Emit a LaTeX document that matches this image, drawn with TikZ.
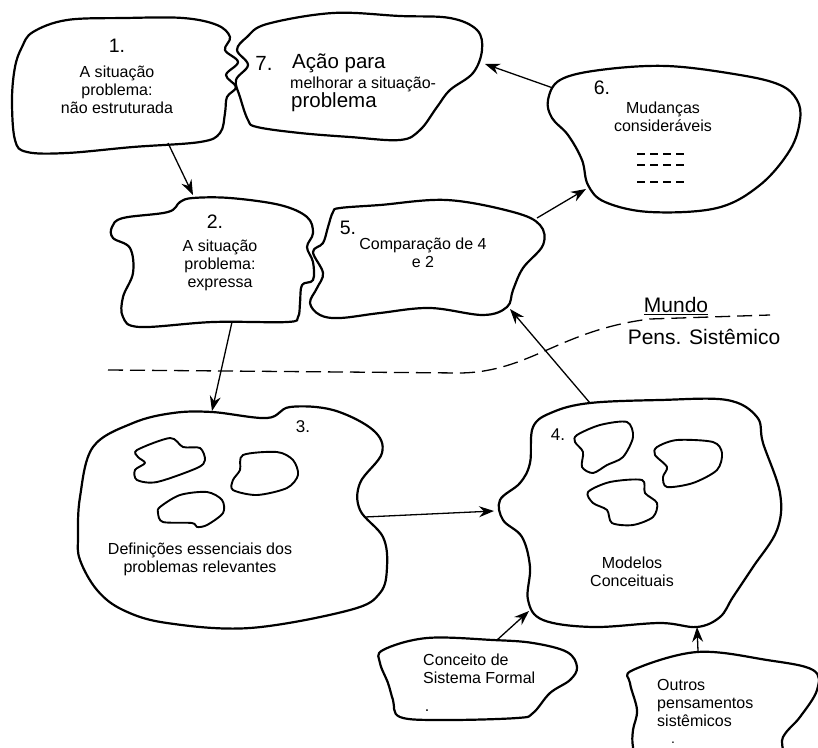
\documentclass[tikz,border=0pt]{standalone}
\usepackage{fontspec}
\setmainfont{Liberation Sans}
\usetikzlibrary{arrows.meta}

\begin{document}
\begin{tikzpicture}[x=1pt, y=-1pt,
    blob/.style={line width=2.2pt, line join=round},
    hole/.style={line width=1.9pt, line join=round},
    link/.style={-{Stealth[length=15pt, width=11pt, inset=5pt]}, line width=1.3pt},
    lbl/.style={inner sep=0pt, font=\fontsize{16}{18}\selectfont, align=center},
    num/.style={inner sep=0pt, font=\fontsize{19.5}{21}\selectfont},
    big/.style={inner sep=0pt, font=\fontsize{20.5}{22}\selectfont}]
  \useasboundingbox (0,0) rectangle (818,747);
  \clip (0,0) rectangle (818,747);

  % 1
  \draw[blob] plot[smooth cycle, tension=0.6] coordinates {(33,32) (67,20) (125,18) (183,18) (217,25) (230,37)
    (225,50) (238,62) (226,75) (236,87) (227,97) (225,113) (220,133) (200,142) (133,147) (67,153) (27,152)
    (15,140) (12,100) (15,67) (22,47)};
  \node[num] (n1) at (117,46) {1.};
  \node[lbl] (t1) at (117,90) {A situação\\problema:\\não estruturada};

  % 7
  \draw[blob] plot[smooth cycle, tension=0.6] coordinates {(247,37) (237,50) (248,65) (236,80) (240,97)
    (248,120) (257,127) (300,133) (350,137) (400,140) (420,130) (437,107) (450,90) (473,73) (482,50)
    (477,30) (450,18) (400,16) (333,13) (267,24)};
  \node[big] (n7) at (264,63) {7.};
  \node[big, anchor=west] (t7a) at (292,63) {Ação para};
  \node[lbl, anchor=west] (t7b) at (290,84) {melhorar a situação-};
  \node[big, anchor=west] (t7c) at (291,102) {problema};

  % 6
  \draw[blob] plot[smooth cycle, tension=0.6] coordinates {(548,100) (560,80) (600,70) (667,66) (740,75)
    (780,85) (797,100) (800,120) (790,150) (760,185) (717,208) (650,212) (605,202) (588,185) (582,160)
    (568,135) (552,118)};
  \node[num] (n6) at (602,88) {6.};
  \node[lbl] (t6) at (663,117) {Mudanças\\consideráveis};
  \foreach \yy in {154,165,182}
    \draw[line width=1.3pt, dash pattern=on 8pt off 5pt] (637,\yy) -- (686,\yy);

  % 2
  \draw[blob] plot[smooth cycle, tension=0.6] coordinates {(168,212) (180,202) (193,198) (230,198) (280,205)
    (307,217) (313,233) (307,247) (313,262) (313,280) (302,285) (300,303) (298,317) (287,322) (213,322)
    (140,327) (123,317) (123,297) (133,273) (130,248) (113,238) (112,227) (123,218)};
  \node[num] (n2) at (215,222) {2.};
  \node[lbl] (t2) at (220,265) {A situação\\problema:\\expressa};

  % 5
  \draw[blob] plot[smooth cycle, tension=0.6] coordinates {(340,208) (380,205) (447,200) (513,212) (540,225)
    (543,245) (523,268) (513,290) (507,307) (483,315) (430,308) (380,313) (340,318) (320,315) (310,303)
    (317,288) (323,273) (313,252) (323,243) (328,227) (333,212)};
  \node[num] (n5) at (348,228) {5.};
  \node[lbl] (t5) at (423,253) {Comparação de 4\\e 2};

  % Mundo / Pens. Sistemico
  \draw[line width=1.3pt, dash pattern=on 15pt off 7pt] (108,370) -- (460,373)
    .. controls (530,372) and (560,330) .. (650,319) -- (770,315);
  \node[big, font=\fontsize{21}{22}\selectfont] (mundo) at (676,306) {\underline{Mundo}};
  \node[big, font=\fontsize{21}{22}\selectfont] (pens) at (704,337) {Pens. Sistêmico};

  % 3
  \draw[blob] plot[smooth cycle, tension=0.6] coordinates {(212,412) (267,418) (290,407) (333,410) (373,430)
    (382,453) (360,483) (360,510) (383,537) (387,567) (380,593) (350,610) (250,628) (167,623) (123,610)
    (97,590) (80,560) (78,537) (80,497) (93,447) (133,423) (173,413)};
  \draw[hole] plot[smooth cycle, tension=0.5] coordinates {(137,450) (170,438) (183,447) (200,448) (205,460)
    (197,468) (157,482) (137,480) (135,470) (145,463) (138,457)};
  \draw[hole] plot[smooth cycle, tension=0.5] coordinates {(243,455) (277,452) (293,460) (298,475) (287,488)
    (257,495) (233,490) (233,480) (240,470)};
  \draw[hole] plot[smooth cycle, tension=0.5] coordinates {(160,507) (180,495) (207,492) (222,500) (223,513)
    (207,525) (197,527) (192,523) (163,522) (158,513)};
  \node[num, font=\fontsize{17}{18}\selectfont] (n3) at (303,427) {3.};
  \node[lbl] (t3) at (200,559) {Definições essenciais dos\\problemas relevantes};

  % 4
  \draw[blob] plot[smooth cycle, tension=0.6] coordinates {(590,403) (660,400) (727,400) (757,417) (763,443)
    (780,493) (777,530) (753,567) (733,597) (720,617) (697,627) (660,623) (593,627) (543,620) (528,600)
    (530,567) (522,537) (503,520) (500,500) (520,483) (530,463) (533,427) (553,412)};
  \draw[hole] plot[smooth cycle, tension=0.5] coordinates {(577,435) (600,425) (627,422) (633,437) (623,457)
    (607,465) (593,473) (582,467) (583,452) (575,442)};
  \draw[hole] plot[smooth cycle, tension=0.5] coordinates {(657,447) (677,440) (713,442) (722,453) (717,470)
    (693,483) (667,487) (663,477) (667,467) (655,455)};
  \draw[hole] plot[smooth cycle, tension=0.5] coordinates {(588,492) (610,482) (642,480) (645,493) (657,503)
    (653,517) (633,525) (612,523) (607,510) (593,503)};
  \node[num, font=\fontsize{17}{18}\selectfont] (n4) at (558,435) {4.};
  \node[lbl] (t4) at (632,572) {Modelos\\Conceituais};

  % Conceito de Sistema Formal
  \draw[blob] plot[smooth cycle, tension=0.6] coordinates {(383,650) (427,638) (493,640) (533,643) (567,652)
    (577,667) (570,680) (550,693) (533,713) (517,718) (443,720) (400,717) (393,700) (388,683) (380,663)};
  \node[lbl, align=left, anchor=west] (t8) at (423,669) {Conceito de\\Sistema Formal};
  \node[inner sep=0pt, font=\fontsize{16}{18}\selectfont] (d8) at (427,711) {.};

  % Outros pensamentos sistemicos
  \draw[blob] plot[smooth cycle, tension=0.6] coordinates {(697,652) (767,660) (813,670) (817,690) (800,717)
    (783,737) (770,770) (640,770) (633,747) (633,730) (637,710) (630,683) (633,670)};
  \node[lbl, align=left, anchor=west] (t9) at (657,703) {Outros\\pensamentos\\sistêmicos};
  \node[inner sep=0pt, font=\fontsize{14}{16}\selectfont] (d9) at (673,743) {.};

  % connectors
  \coordinate (a1) at (168,143);  \coordinate (a2) at (193,195);
  \coordinate (b2) at (232,322);  \coordinate (b3) at (212,411);
  \coordinate (c3) at (365,517);  \coordinate (c4) at (494,511);
  \coordinate (d4) at (590,403);  \coordinate (d5) at (510,309);
  \coordinate (e5) at (537,218);  \coordinate (e6) at (586,189);
  \coordinate (f6) at (553,88);   \coordinate (f7) at (485,64);
  \coordinate (g8) at (497,640);  \coordinate (g4) at (529,611);
  \coordinate (h9) at (698,651);  \coordinate (h4) at (697,627);

  \draw[link] (a1) -- (a2);
  \draw[link] (b2) -- (b3);
  \draw[link] (c3) -- (c4);
  \draw[link] (d4) -- (d5);
  \draw[link] (e5) -- (e6);
  \draw[link] (f6) -- (f7);
  \draw[link] (g8) -- (g4);
  \draw[link] (h9) -- (h4);
\end{tikzpicture}
\end{document}
